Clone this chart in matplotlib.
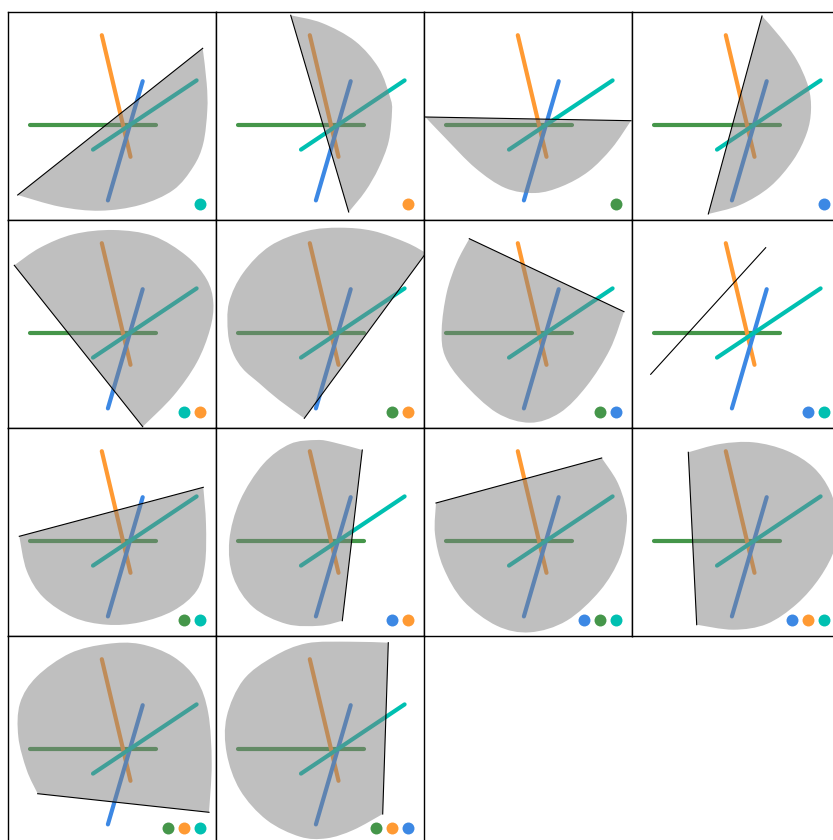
import numpy as np
import matplotlib

matplotlib.use("Agg")
import matplotlib.pyplot as plt
from matplotlib.path import Path
from matplotlib.patches import PathPatch

W, H = 833, 840
PANEL = 208
X0, Y0 = 8, 12

COLORS = {
    "orange": "#FF9A33",
    "blue": "#3C88E4",
    "green": "#45964A",
    "teal": "#00C0B1",
}

# segment endpoints in panel pixel coords (y down)
LINE_NAMES = ["green", "orange", "blue", "teal"]
LINE_X = [[22.2, 148.3], [93.8, 122.5], [134.7, 99.9], [85.0, 188.6]]
LINE_Y = [[113.3, 113.3], [23.2, 144.8], [69.2, 188.4], [137.6, 68.4]]

# dots shown at the bottom right of each panel, left to right
DOTS = [
    ["teal"], ["orange"], ["green"], ["blue"],
    ["teal", "orange"], ["green", "orange"], ["green", "blue"], ["blue", "teal"],
    ["green", "teal"], ["blue", "orange"], ["blue", "green", "teal"], ["blue", "orange", "teal"],
    ["green", "orange", "teal"], ["green", "orange", "blue"],
]

# straight cut of each region: [x0, x1], [y0, y1]
CHORD_X = [
    [9.7, 194.7], [74.7, 132.7], [1.3, 207.0], [130.0, 76.3],
    [6.3, 134.7], [88.3, 210.0], [200.0, 45.3], [18.7, 133.7],
    [195.3, 11.3], [146.3, 126.3], [177.7, 12.0], [56.3, 64.7],
    [201.0, 29.7], [172.3, 166.7],
]
CHORD_Y = [
    [183.0, 36.3], [3.3, 200.0], [105.0, 108.7], [4.0, 202.0],
    [45.3, 206.7], [198.3, 33.0], [91.7, 18.7], [154.3, 27.7],
    [59.3, 108.3], [22.0, 192.7], [30.0, 75.0], [24.3, 196.7],
    [176.3, 157.7], [6.7, 178.0],
]

# curved boundary of each region, running from chord end to chord end
OUTLINES = [
    [(194.7, 36.3), (198.7, 71.3), (199.3, 98), (195.3, 131.3), (185.3, 154.7), (165.3, 178),
     (132, 193), (92, 198.7), (52, 194.7), (9.7, 183)],
    [(74.7, 3.3), (106, 11), (139.3, 29.3), (162.7, 56), (174.3, 86), (176, 99.3), (172.7, 129.3),
     (162.7, 156), (149.3, 179.3), (132.7, 200)],
    [(207, 108.7), (188, 136), (164.7, 159.3), (138, 174.3), (111.3, 181), (81.3, 176),
     (51.3, 156), (21.3, 126), (1.3, 105)],
    [(130, 4), (148, 24.7), (164.7, 48), (176.3, 74.7), (179, 98), (174.7, 121.3), (161.3, 148),
     (138, 174.7), (108, 193), (76.3, 202)],
    [(6.3, 45.3), (32, 27.7), (65.3, 14.3), (105.3, 10), (145.3, 16), (178.7, 36), (198.7, 59.3),
     (205.3, 82.7), (202, 109.3), (188.7, 142.7), (165.3, 176), (134.7, 206.7)],
    [(88.3, 198.3), (63, 180), (43, 163), (27, 149), (17, 133), (12, 113), (13, 82.7),
     (27.3, 52.7), (54, 26), (90.7, 11), (124, 7.7), (157.3, 11), (190.7, 22.7), (210, 33)],
    [(200, 91.7), (186, 129.3), (162.7, 166), (136, 192.7), (106, 202.7), (72.7, 192.7),
     (39.3, 162.7), (21, 136), (17.7, 109.3), (22.7, 72.7), (32.7, 42.7), (45.3, 18.7)],
    None,
    [(195.3, 59.3), (198, 96), (197, 136), (188.7, 162.7), (165.3, 182.7), (132, 194.3),
     (98.7, 196.7), (65.3, 189.3), (35.3, 169.3), (18.7, 142.7), (11.3, 108.3)],
    [(146.3, 22), (117.3, 14.3), (100.7, 12), (74, 16), (47.3, 36), (24, 72.7), (13.3, 112.7),
     (17.3, 149.3), (37.3, 179.3), (70.7, 196), (104, 197.7), (126.3, 192.7)],
    [(177.7, 30), (192.7, 52.7), (201, 76), (202.7, 96), (196, 129.3), (176, 162.7), (142.7, 192.7),
     (106, 204.3), (72.7, 197.7), (39.3, 172.7), (19.3, 139.3), (11, 106), (12, 75)],
    [(56.3, 24.3), (88, 16), (121.3, 14.3), (154.7, 22.7), (181.3, 39.3), (198, 62.7), (206, 92),
     (203, 120), (188, 149.3), (164.7, 176), (134.7, 196), (101.3, 201.7), (64.7, 196.7)],
    [(201, 176.3), (203.7, 127.3), (200.3, 77.3), (188.7, 44), (165.3, 20.7), (132, 8), (98.7, 8),
     (62, 17.3), (28.7, 40.7), (12, 67.3), (10.3, 100.7), (18.7, 134), (29.7, 157.7)],
    [(172.3, 6.7), (134, 5.7), (90.7, 7.3), (57.3, 20.7), (27.3, 44), (10.7, 80.7), (10.7, 117.3),
     (24, 154), (50.7, 184), (84, 200.7), (110.7, 202.3), (137.3, 194), (166.7, 178)],
]


def region_path(points):
    # smooth curve through the traced points, closed by the straight cut
    p = np.asarray(points, dtype=float)
    verts = [p[0]]
    codes = [Path.MOVETO]
    n = len(p)
    for i in range(n - 1):
        prev = p[max(i - 1, 0)]
        nxt = p[min(i + 2, n - 1)]
        c1 = p[i] + (p[i + 1] - prev) / 6.0
        c2 = p[i + 1] - (nxt - p[i]) / 6.0
        verts += [c1, c2, p[i + 1]]
        codes += [Path.CURVE4] * 3
    verts.append(p[0])
    codes.append(Path.CLOSEPOLY)
    return Path(verts, codes)


fig = plt.figure(figsize=(W / 100, H / 100), dpi=100)

for k in range(len(DOTS)):
    r, c = divmod(k, 4)
    left = X0 + PANEL * c
    top = Y0 + PANEL * r
    ax = fig.add_axes([left / W, 1 - (top + PANEL) / H, PANEL / W, PANEL / H])
    ax.set_xlim(0, PANEL)
    ax.set_ylim(PANEL, 0)
    ax.set_xticks([])
    ax.set_yticks([])
    for sp in ax.spines.values():
        sp.set_linewidth(1.0)
        sp.set_color("black")

    for name, xs, ys in zip(LINE_NAMES, LINE_X, LINE_Y):
        ax.plot(xs, ys, color=COLORS[name], lw=3, solid_capstyle="round", zorder=2)

    if OUTLINES[k] is not None:
        patch = PathPatch(region_path(OUTLINES[k]), facecolor="gray", edgecolor="none",
                          alpha=0.5, zorder=3, clip_on=False)
        ax.add_patch(patch)
    ax.plot(CHORD_X[k], CHORD_Y[k], color="black", lw=0.8, zorder=4, clip_on=False)

    names = DOTS[k]
    for j, name in enumerate(names):
        ax.plot(192 - 16 * (len(names) - 1 - j), 192, "o", ms=8.6, mec="none",
                color=COLORS[name], zorder=5)

fig.savefig("out.png", dpi=100)
